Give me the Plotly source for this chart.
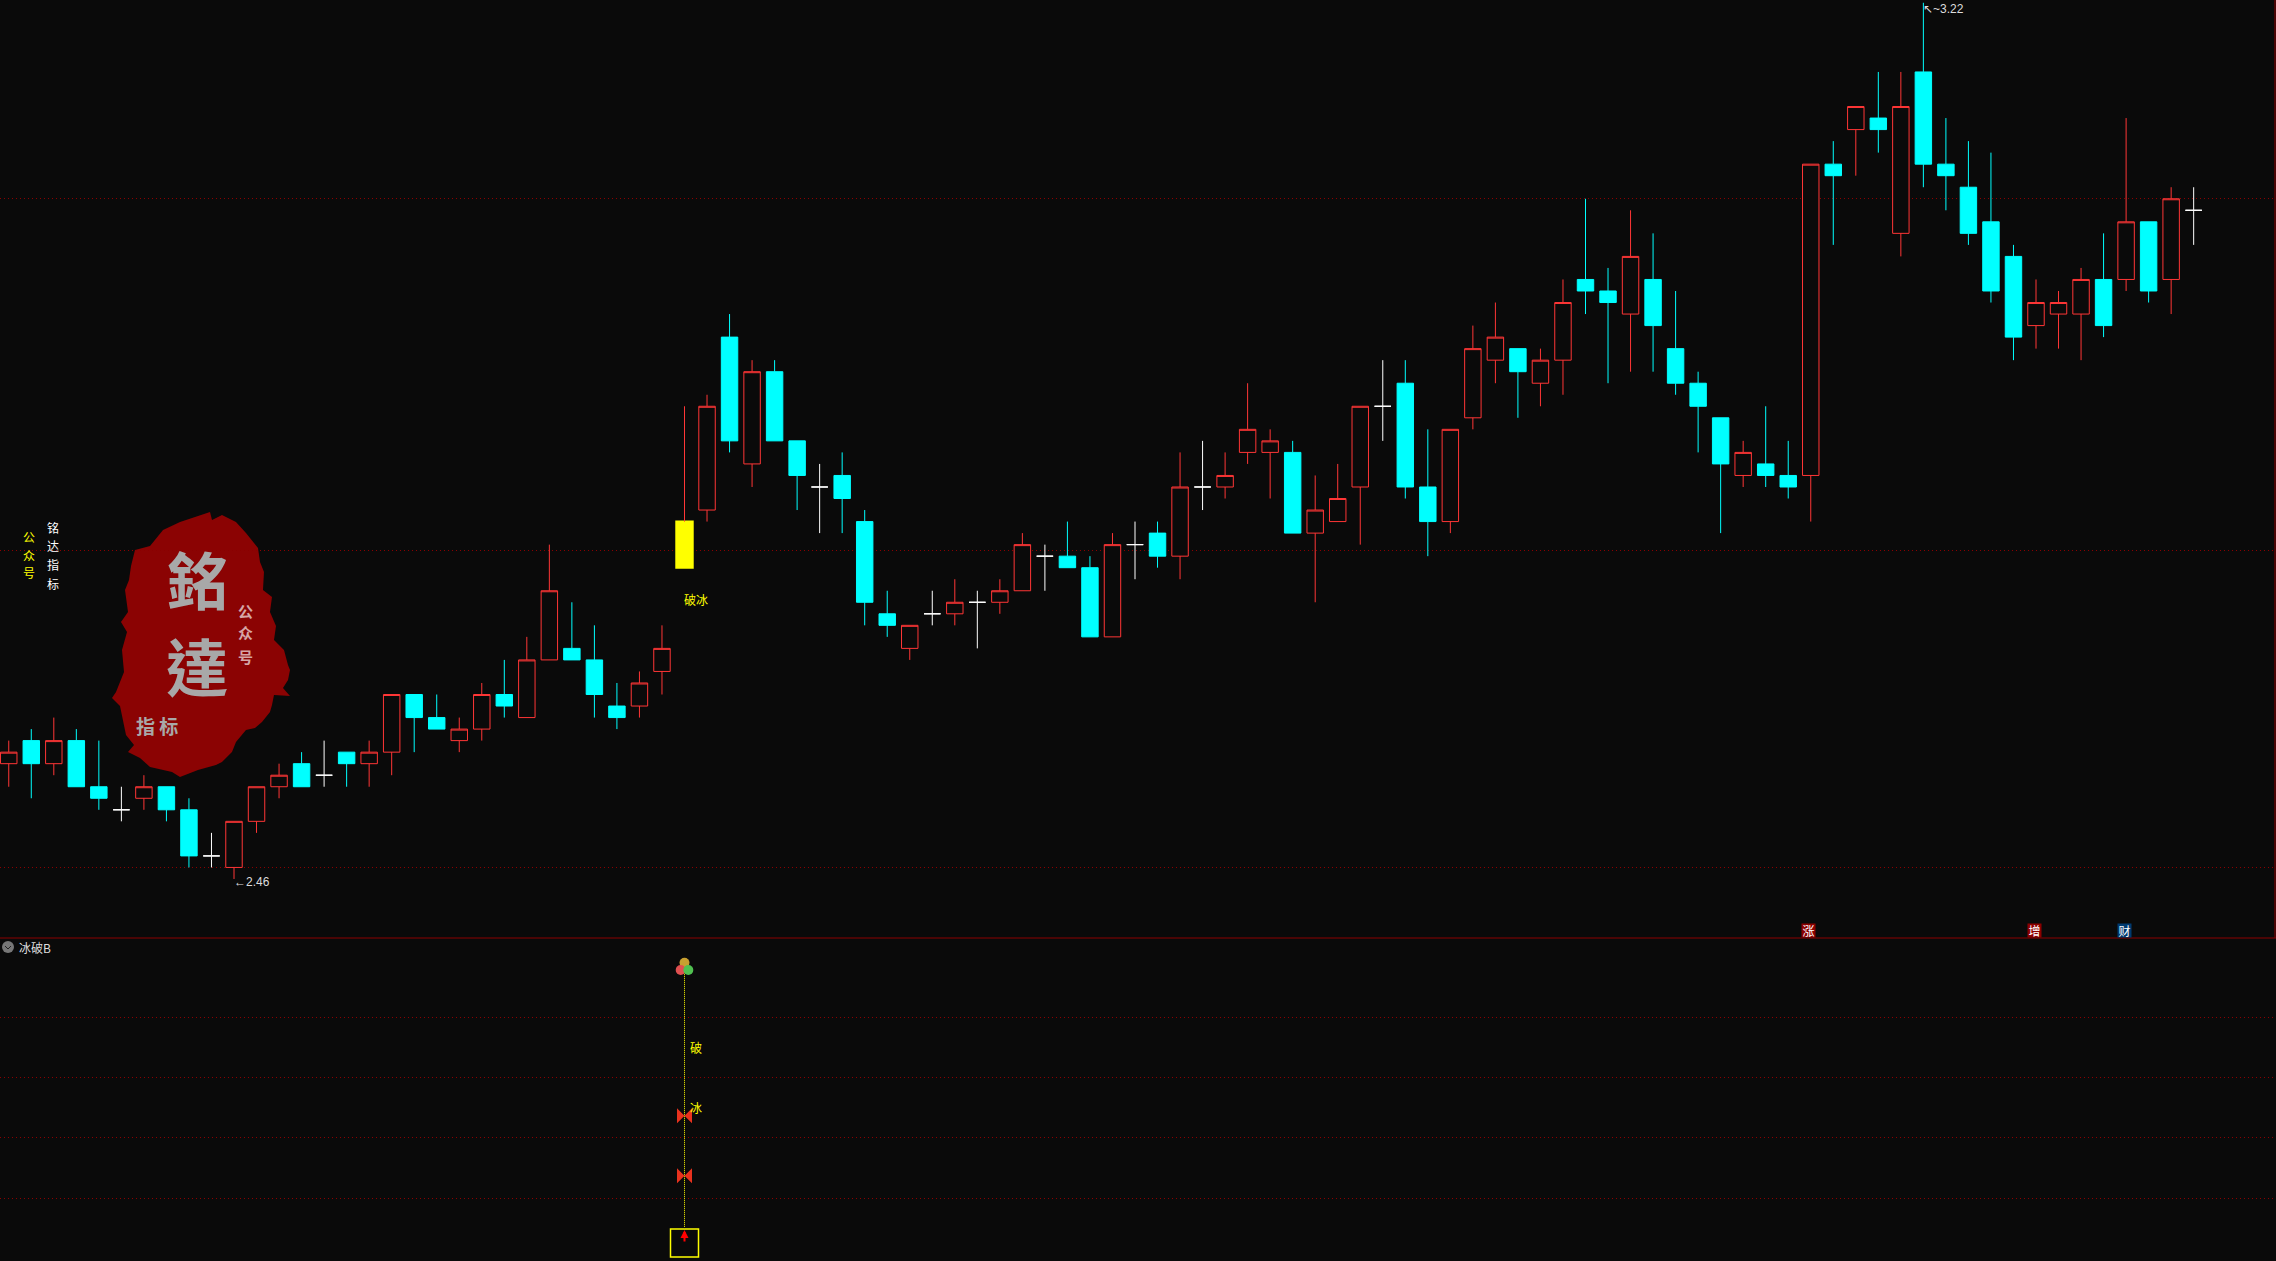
import plotly.graph_objects as go

W, H = 2276, 1261
SPLIT = 938  # pixel row of the line between the two panels

opens = [2.56, 2.58, 2.56, 2.58, 2.54, 2.52, 2.53, 2.54, 2.52, 2.48,
         2.47, 2.51, 2.54, 2.56, 2.55, 2.57, 2.56, 2.57, 2.62, 2.60,
         2.58, 2.59, 2.62, 2.60, 2.65, 2.66, 2.65, 2.61, 2.61, 2.64,
         2.73, 2.78, 2.93, 2.82, 2.90, 2.84, 2.80, 2.81, 2.77, 2.69,
         2.66, 2.69, 2.69, 2.70, 2.70, 2.71, 2.74, 2.74, 2.73, 2.67,
         2.75, 2.76, 2.74, 2.80, 2.80, 2.83, 2.83, 2.83, 2.76, 2.77,
         2.80, 2.87, 2.89, 2.80, 2.77, 2.86, 2.91, 2.92, 2.89, 2.91,
         2.98, 2.97, 2.95, 2.98, 2.92, 2.89, 2.86, 2.81, 2.82, 2.81,
         2.81, 3.08, 3.11, 3.12, 3.02, 3.16, 3.08, 3.06, 3.03, 3.00,
         2.94, 2.95, 2.95, 2.98, 2.98, 3.03, 2.98, 3.04]
highs = [2.58, 2.59, 2.60, 2.59, 2.58, 2.54, 2.55, 2.54, 2.53, 2.50,
         2.51, 2.54, 2.56, 2.57, 2.58, 2.57, 2.58, 2.62, 2.62, 2.62,
         2.60, 2.63, 2.65, 2.67, 2.75, 2.70, 2.68, 2.63, 2.64, 2.68,
         2.87, 2.88, 2.95, 2.91, 2.91, 2.84, 2.82, 2.83, 2.78, 2.71,
         2.68, 2.71, 2.72, 2.71, 2.72, 2.76, 2.75, 2.77, 2.74, 2.76,
         2.77, 2.77, 2.83, 2.84, 2.83, 2.89, 2.85, 2.84, 2.81, 2.82,
         2.87, 2.91, 2.91, 2.85, 2.85, 2.94, 2.96, 2.92, 2.92, 2.98,
         3.05, 2.99, 3.04, 3.02, 2.97, 2.90, 2.86, 2.84, 2.87, 2.84,
         3.08, 3.10, 3.13, 3.16, 3.16, 3.22, 3.12, 3.10, 3.09, 3.01,
         2.98, 2.97, 2.99, 3.02, 3.12, 3.03, 3.06, 3.06]
lows = [2.54, 2.53, 2.55, 2.54, 2.52, 2.51, 2.52, 2.51, 2.47, 2.47,
        2.46, 2.50, 2.53, 2.54, 2.54, 2.54, 2.54, 2.55, 2.57, 2.59,
        2.57, 2.58, 2.60, 2.60, 2.65, 2.65, 2.60, 2.59, 2.60, 2.62,
        2.73, 2.77, 2.83, 2.80, 2.84, 2.78, 2.76, 2.76, 2.68, 2.67,
        2.65, 2.68, 2.68, 2.66, 2.69, 2.71, 2.71, 2.73, 2.67, 2.67,
        2.72, 2.73, 2.72, 2.78, 2.79, 2.82, 2.79, 2.76, 2.70, 2.77,
        2.75, 2.84, 2.79, 2.74, 2.76, 2.85, 2.89, 2.86, 2.87, 2.88,
        2.95, 2.89, 2.90, 2.90, 2.88, 2.83, 2.76, 2.80, 2.80, 2.79,
        2.77, 3.01, 3.07, 3.09, 3.00, 3.06, 3.04, 3.01, 2.96, 2.91,
        2.92, 2.92, 2.91, 2.93, 2.97, 2.96, 2.95, 3.01]
closes = [2.57, 2.56, 2.58, 2.54, 2.53, 2.52, 2.54, 2.52, 2.48, 2.48,
          2.51, 2.54, 2.55, 2.54, 2.55, 2.56, 2.57, 2.62, 2.60, 2.59,
          2.59, 2.62, 2.61, 2.65, 2.71, 2.65, 2.62, 2.60, 2.63, 2.66,
          2.77, 2.87, 2.84, 2.90, 2.84, 2.81, 2.80, 2.79, 2.70, 2.68,
          2.68, 2.69, 2.70, 2.70, 2.71, 2.75, 2.74, 2.73, 2.67, 2.75,
          2.75, 2.74, 2.80, 2.80, 2.81, 2.85, 2.84, 2.76, 2.78, 2.79,
          2.87, 2.87, 2.80, 2.77, 2.85, 2.92, 2.93, 2.90, 2.91, 2.96,
          2.97, 2.96, 3.00, 2.94, 2.89, 2.87, 2.82, 2.83, 2.81, 2.80,
          3.08, 3.07, 3.13, 3.11, 3.13, 3.08, 3.07, 3.02, 2.97, 2.93,
          2.96, 2.96, 2.98, 2.94, 3.03, 2.97, 3.05, 3.04]

signal_bar = 30          # the yellow bar, where both panels fire
price_grid = [2.47, 2.745, 3.05]
lower_grid = [0, 1, 2, 3]
low_mark = 10
high_mark = 85
tag_bars = [80, 90, 94]
tag_labels = ["涨", "增", "财"]
tag_colors = ["#8b0000", "#8b0000", "#003a70"]

butterfly_levels = [0.37, 1.37]
stem_levels = [-0.48, 4.0]
ball_x = [30, 29.83, 30.17]
ball_y = [3.92, 3.8, 3.8]
ball_colors = ["#c8a030", "#e05050", "#50c050"]

BG = "#0a0a0a"
RED = "#ff3636"
CYAN = "#00ffff"
DARKRED = "#8b0000"
BODY_GAP = 0.27


def candles(rows, up, down, up_fill=BG, down_fill=None, width=1):
    return go.Candlestick(
        x=rows,
        open=[opens[i] for i in rows],
        high=[highs[i] for i in rows],
        low=[lows[i] for i in rows],
        close=[closes[i] for i in rows],
        increasing=dict(line=dict(color=up, width=width), fillcolor=up_fill),
        decreasing=dict(line=dict(color=down, width=width), fillcolor=down_fill or down),
        hoverinfo="skip",
        showlegend=False,
    )


bars = range(len(opens))
plain = [i for i in bars if opens[i] != closes[i] and i != signal_bar]
doji = [i for i in bars if opens[i] == closes[i]]

fig = go.Figure()
fig.add_trace(candles(plain, RED, CYAN))
fig.add_trace(candles(doji, "#ffffff", "#ffffff", "#ffffff"))

# yellow body, the upper wick stays red
fig.add_trace(go.Candlestick(
    x=[signal_bar], open=[opens[signal_bar]], close=[closes[signal_bar]],
    high=[closes[signal_bar]], low=[opens[signal_bar]],
    increasing=dict(line=dict(color="#ffff00", width=2), fillcolor="#ffff00"),
    hoverinfo="skip", showlegend=False,
))
fig.add_trace(go.Scatter(
    x=[signal_bar, signal_bar], y=[closes[signal_bar], highs[signal_bar]],
    mode="lines", line=dict(color=RED, width=1), hoverinfo="skip", showlegend=False,
))

# lower panel
fig.add_trace(go.Scatter(
    x=[signal_bar] * 2, y=stem_levels, xaxis="x2", yaxis="y2", mode="lines",
    line=dict(color="#ffff00", width=1, dash="1px,1px"), hoverinfo="skip", showlegend=False,
))
fig.add_trace(go.Scatter(
    x=[signal_bar] * 2, y=butterfly_levels, xaxis="x2", yaxis="y2", mode="markers",
    marker=dict(symbol="bowtie", size=15, color="#e8321e"), hoverinfo="skip", showlegend=False,
))
fig.add_trace(go.Scatter(
    x=ball_x, y=ball_y, xaxis="x2", yaxis="y2", mode="markers",
    marker=dict(size=10, color=ball_colors), hoverinfo="skip", showlegend=False,
))
fig.add_trace(go.Scatter(
    x=[signal_bar], y=[-0.75], xaxis="x2", yaxis="y2", mode="markers",
    marker=dict(symbol="square-open", size=28, color="#ffff00", line=dict(width=1.5, color="#ffff00")),
    hoverinfo="skip", showlegend=False,
))


def px(x, y):
    return x / W, 1 - y / H


# seal outline in screen pixels
seal_outline = [
    (210, 512), (212, 520), (222, 515), (236, 522), (246, 533), (258, 548), (260, 562),
    (264, 572), (263, 590), (272, 597), (270, 612), (276, 626), (274, 640), (284, 650),
    (288, 665), (290, 670), (288, 680), (283, 688), (290, 696), (274, 695), (272, 705),
    (270, 712), (262, 722), (255, 728), (246, 730), (236, 742), (232, 752), (222, 762),
    (216, 765), (198, 770), (180, 777), (172, 772), (150, 767), (140, 758), (128, 752),
    (134, 745), (126, 735), (120, 706), (112, 698), (116, 692), (124, 672), (122, 650),
    (127, 632), (121, 622), (128, 612), (125, 590), (129, 580), (131, 566), (135, 550),
    (150, 546), (163, 530), (180, 522), (195, 517),
]
seal_path = ""
for n, (sx, sy) in enumerate(seal_outline):
    qx, qy = px(sx, sy)
    seal_path += ("M" if n == 0 else "L") + f"{qx:.5f},{qy:.5f} "
seal_path += "Z"

cx0, cy0 = px(2, 941)
cx1, cy1 = px(14, 953)
chev = [px(5, 946), px(8, 949), px(11, 946)]

shapes = [
    dict(type="path", path=seal_path, xref="paper", yref="paper",
         fillcolor="#8b0303", line=dict(width=0), layer="below"),
    dict(type="line", xref="paper", yref="paper", x0=0, x1=1, y0=1 - SPLIT / H, y1=1 - SPLIT / H,
         line=dict(color=DARKRED, width=1)),
    dict(type="line", xref="paper", yref="paper", x0=(W - 1) / W, x1=(W - 1) / W,
         y0=1 - SPLIT / H, y1=1, line=dict(color=DARKRED, width=1)),
    dict(type="circle", xref="paper", yref="paper", x0=cx0, x1=cx1, y0=cy1, y1=cy0,
         fillcolor="#777777", line=dict(width=0)),
    dict(type="path", xref="paper", yref="paper",
         path="M{},{} L{},{} L{},{}".format(*chev[0], *chev[1], *chev[2]),
         line=dict(color="#222222", width=1)),
]

CJK = "Noto Sans CJK SC"
annotations = []


def note(text, x, y, color="#ffffff", size=12, family=CJK, xanchor="center"):
    # screen-pixel placed text
    qx, qy = px(x, y)
    annotations.append(dict(text=text, xref="paper", yref="paper", x=qx, y=qy, showarrow=False,
                            xanchor=xanchor, yanchor="middle",
                            font=dict(family=family, size=size, color=color)))


for ch, y in zip("公众号", [536, 555, 573]):
    note(ch, 29, y, "#ffff00")
for ch, y in zip("铭达指标", [527, 545, 564, 583]):
    note(ch, 53, y)
note("<b>銘</b>", 198, 578, "#a8a8a8", 62, "Noto Sans CJK TC")
note("<b>達</b>", 197, 665, "#a8a8a8", 62, "Noto Sans CJK TC")
for ch, y in zip("公众号", [610, 632, 656]):
    note("<b>" + ch + "</b>", 245, y, "#d6a6a6", 15)
note("<b>指 标</b>", 157, 726, "#a8a8a8", 19)
note("冰破B", 17, 947, "#dddddd", xanchor="left")

annotations.append(dict(text="←%.2f" % lows[low_mark], x=low_mark, y=lows[low_mark], xanchor="left",
                        showarrow=False, xshift=-2, yshift=-3,
                        font=dict(family="Liberation Sans", size=12, color="#dddddd")))
annotations.append(dict(text="↖~%.2f" % highs[high_mark], x=high_mark, y=highs[high_mark], xanchor="left",
                        yanchor="top", showarrow=False, xshift=-2, yshift=3,
                        font=dict(family="Liberation Sans", size=12, color="#dddddd")))
annotations.append(dict(text="破冰", x=signal_bar, y=2.702, xanchor="left", showarrow=False, xshift=-3,
                        font=dict(family=CJK, size=12, color="#ffff00")))
for lbl, bar, col in zip(tag_labels, tag_bars, tag_colors):
    annotations.append(dict(text=lbl, x=bar, y=2.4155, showarrow=False, bgcolor=col, borderpad=0,
                            width=13, height=13, xshift=-2,
                            font=dict(family=CJK, size=12, color="#ffffff")))
for lbl, level in zip("破冰", [2.5, 1.5]):
    annotations.append(dict(text=lbl, x=signal_bar, y=level, xref="x2", yref="y2", xanchor="left",
                            showarrow=False, xshift=3,
                            font=dict(family=CJK, size=12, color="#ffff00")))
annotations.append(dict(text="", x=signal_bar, y=-0.533, xref="x2", yref="y2", showarrow=True,
                        arrowhead=2, arrowsize=0.8, arrowwidth=2, arrowcolor="#ff0000", ax=0, ay=13))

bar_range = [-0.3885, 100.655]
lower_domain = [0, 1 - SPLIT / H]
fig.update_layout(
    width=W, height=H,
    margin=dict(l=0, r=0, t=0, b=0),
    paper_bgcolor=BG, plot_bgcolor=BG,
    boxgap=BODY_GAP, boxgroupgap=0,
    showlegend=False,
    shapes=shapes,
    annotations=annotations,
    xaxis=dict(range=bar_range, domain=[0, 1], anchor="y", visible=False,
               rangeslider=dict(visible=False)),
    yaxis=dict(range=[2.4088, 3.2224], domain=[lower_domain[1], 1], tickmode="array", tickvals=price_grid,
               showticklabels=False, ticks="", zeroline=False, showline=False,
               gridcolor=DARKRED, griddash="1px,3px", gridwidth=1),
    xaxis2=dict(range=bar_range, domain=[0, 1], anchor="y2", visible=False),
    yaxis2=dict(range=[-1.05, 4.333], domain=lower_domain, anchor="x2", tickmode="array", tickvals=lower_grid,
                showticklabels=False, ticks="", zeroline=False, showline=False,
                gridcolor=DARKRED, griddash="1px,3px", gridwidth=1),
)

fig.write_html("out.html", config={"displayModeBar": False},
               post_script="document.body.style.margin='0';document.body.style.overflow='hidden';")
